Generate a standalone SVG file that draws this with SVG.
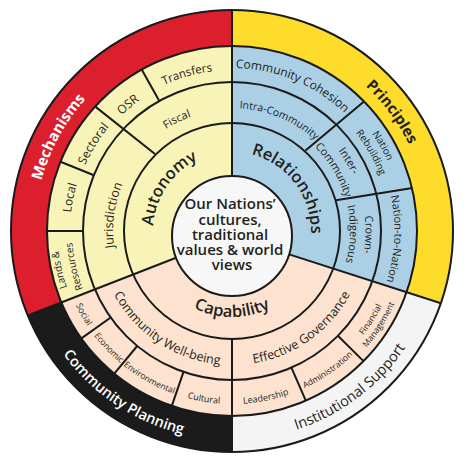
<svg xmlns="http://www.w3.org/2000/svg" width="468" height="463" viewBox="0 0 468 463">
<style>
.ln{fill:none;stroke:#1a1a1a;stroke-width:2}
.ring{stroke:#1a1a1a;stroke-width:2}
text{font-family:"Open Sans","Noto Sans","Liberation Sans",sans-serif;fill:#231f20}
.rt{font-size:15px;font-weight:700}
.rs{font-size:14.5px;font-weight:600}
.core{font-size:16.5px;font-weight:600}
.mid{font-size:12.5px}
.s12{font-size:12px}
.s11{font-size:11px}
.s10{font-size:10px}
.s9{font-size:9px}
.s85{font-size:8.5px}
.ctr{font-size:15px;font-weight:600}
.wt{fill:#ffffff}
</style>
<defs>
<path id="p-mech" d="M 48.8 303.5 A 197 197 0 0 1 192.4 38.0"/>
<path id="p-prin" d="M 243.3 34.3 A 197 197 0 0 1 423.7 276.3"/>
<path id="p-cp" d="M 24.2 253.6 A 209 209 0 0 0 290.3 431.7"/>
<path id="p-is" d="M 185.0 434.6 A 209 209 0 0 0 440.7 241.9"/>
<path id="p-transfers" d="M 116.2 119.2 A 161 161 0 0 1 270.9 74.8"/>
<path id="p-osr" d="M 94.1 149.8 A 160 160 0 0 1 178.6 80.2"/>
<path id="p-sectoral" d="M 72.3 210.8 A 161 161 0 0 1 144.8 95.7"/>
<path id="p-local" d="M 71.7 254.7 A 162 162 0 0 1 94.0 146.1"/>
<path id="p-lands" d="M 85.2 325.3 A 174.5 174.5 0 0 1 58.9 208.8"/>
<path id="p-res" d="M 97.4 317.4 A 160 160 0 0 1 73.3 210.7"/>
<path id="p-fiscal" d="M 137.2 155.0 A 121.5 121.5 0 0 1 229.2 109.5"/>
<path id="p-juris" d="M 122.1 276.5 A 119 119 0 0 1 137.6 158.6"/>
<path id="p-auto" d="M 154.5 246.1 A 79 79 0 0 1 216.9 153.5"/>
<path id="p-cc" d="M 183.0 75.5 A 163 163 0 0 1 376.6 155.7"/>
<path id="p-intra" d="M 206.4 110.7 A 123 123 0 0 1 336.3 165.8"/>
<path id="p-rel" d="M 229.2 152.0 A 79 79 0 0 1 307.1 255.4"/>
<path id="p-nation1" d="M 342.7 101.4 A 170.5 170.5 0 0 1 400.2 202.9"/>
<path id="p-rebuild" d="M 334.6 110.9 A 158 158 0 0 1 387.8 204.9"/>
<path id="p-inter" d="M 312.0 124.8 A 133 133 0 0 1 363.4 210.2"/>
<path id="p-comm" d="M 303.0 136.8 A 118 118 0 0 1 348.5 212.5"/>
<path id="p-crown" d="M 354.4 177.8 A 133.5 133.5 0 0 1 351.5 290.6"/>
<path id="p-indig" d="M 340.2 184.0 A 118 118 0 0 1 337.6 283.7"/>
<path id="p-n2n" d="M 376.5 156.7 A 162.5 162.5 0 0 1 368.6 319.0"/>
<path id="p-cap" d="M 166.1 286.3 A 86 86 0 0 0 297.9 286.3"/>
<path id="p-cwb" d="M 103.5 269.1 A 134 134 0 0 0 247.2 364.1"/>
<path id="p-eg" d="M 221.5 364.6 A 134 134 0 0 0 361.7 264.6"/>
<path id="p-social" d="M 64.4 274.0 A 173 173 0 0 0 108.4 352.0"/>
<path id="p-econ" d="M 80.0 313.6 A 173 173 0 0 0 141.6 378.5"/>
<path id="p-env" d="M 104.8 348.2 A 173 173 0 0 0 198.1 400.6"/>
<path id="p-cult" d="M 160.3 388.4 A 173 173 0 0 0 248.6 403.2"/>
<path id="p-lead" d="M 221.4 403.7 A 173 173 0 0 0 309.2 385.8"/>
<path id="p-admin" d="M 281.1 396.9 A 173 173 0 0 0 369.3 336.3"/>
<path id="p-fin" d="M 345.2 354.5 A 167.5 167.5 0 0 0 391.7 281.4"/>
<path id="p-mgmt" d="M 352.3 362.2 A 178 178 0 0 0 401.8 284.5"/>
</defs>
<rect width="468" height="463" fill="#ffffff"/>

<g id="outer-ring">
<g id="mechanisms"><path d="M 232 236 L 232 10 A 221 221 0 0 0 27.8 315.5 Z" fill="#dc1f2d"/>
<text class="rt wt"><textPath href="#p-mech" startOffset="50%" text-anchor="middle">Mechanisms</textPath></text></g>
<g id="principles"><path d="M 232 236 L 440.9 303.3 A 221 221 0 0 0 232 10 Z" fill="#fddc2c"/>
<text class="rt"><textPath href="#p-prin" startOffset="50%" text-anchor="middle">Principles</textPath></text></g>
<g id="institutional-support"><path d="M 232 236 L 232 452 A 221 221 0 0 0 440.9 303.3 Z" fill="#f4f4f4"/>
<text class="rs" style="font-weight:500"><textPath href="#p-is" startOffset="50%" text-anchor="middle">Institutional Support</textPath></text></g>
<g id="community-planning"><path d="M 232 236 L 27.8 315.5 A 221 221 0 0 0 232 452 Z" fill="#1b1b1b"/>
<text class="rs wt"><textPath href="#p-cp" startOffset="50%" text-anchor="middle">Community Planning</textPath></text></g>
</g>

<g id="fills">
<path id="autonomy-fill" d="M 232 236 L 232 46 A 185 185 0 0 0 61.4 302.5 Z" fill="#f8f4b8"/>
<path id="relationships-fill" d="M 232 236 L 406.6 292.2 A 185 185 0 0 0 232 46 Z" fill="#abd0e5"/>
<path id="capability-fill" d="M 232 236 L 61.4 302.5 A 185 185 0 0 0 406.6 292.2 Z" fill="#fce2cf"/>
</g>

<g id="connectors">
<circle class="ln" cx="232" cy="231" r="221"/>
<circle class="ln" cx="232" cy="231" r="185"/>
<circle class="ln" cx="232" cy="231" r="149"/>
<circle class="ln" cx="232" cy="231" r="108"/>
<path class="ln" d="M 232 10 V 176 M 232 339 V 452 M 289.1 254.4 L 440.9 303.3 M 176.1 257.8 L 27.8 315.5"/>
<path class="ln" d="M 141.7 69.5 L 159.3 100.9 M 95 106.4 L 155 154 M 60.5 161.7 L 93.9 175.2 M 47 231 L 83 231"/>
<path class="ln" d="M 364 101.5 L 305.5 150.5 M 412.5 188 L 336 200.3"/>
<path class="ln" d="M 81.4 338.4 L 110.7 317.5 M 114.3 373.7 L 137.2 346 M 171.8 405.9 L 183.5 371.9 M 305.8 400.7 L 291.4 367.6 M 363.5 361.1 L 337.9 335.8"/>
</g>

<g id="autonomy">
<text class="core"><textPath href="#p-auto" startOffset="50%" text-anchor="middle">Autonomy</textPath></text>
<g id="fiscal"><text class="s11"><textPath href="#p-fiscal" startOffset="50%" text-anchor="middle">Fiscal</textPath></text></g>
<g id="jurisdiction"><text class="s12" style="font-size:12.5px"><textPath href="#p-juris" startOffset="50%" text-anchor="middle">Jurisdiction</textPath></text></g>
<g id="transfers"><text class="s11" style="font-size:11.5px"><textPath href="#p-transfers" startOffset="50%" text-anchor="middle">Transfers</textPath></text></g>
<g id="osr"><text class="s12"><textPath href="#p-osr" startOffset="50%" text-anchor="middle">OSR</textPath></text></g>
<g id="sectoral"><text class="s12"><textPath href="#p-sectoral" startOffset="50%" text-anchor="middle">Sectoral</textPath></text></g>
<g id="local"><text class="s12"><textPath href="#p-local" startOffset="50%" text-anchor="middle">Local</textPath></text></g>
<g id="lands-resources"><text class="s10"><textPath href="#p-lands" startOffset="50%" text-anchor="middle">Lands &amp;</textPath></text>
<text class="s10"><textPath href="#p-res" startOffset="50%" text-anchor="middle">Resources</textPath></text></g>
</g>

<g id="relationships">
<text class="core"><textPath href="#p-rel" startOffset="50%" text-anchor="middle">Relationships</textPath></text>
<g id="community-cohesion"><text class="mid" style="font-size:12px"><textPath href="#p-cc" startOffset="50%" text-anchor="middle">Community Cohesion</textPath></text></g>
<g id="intra-community"><text class="s11" style="font-size:10.5px"><textPath href="#p-intra" startOffset="50%" text-anchor="middle">Intra-Community</textPath></text></g>
<g id="nation-rebuilding"><text class="s10"><textPath href="#p-nation1" startOffset="50%" text-anchor="middle">Nation</textPath></text>
<text class="s10"><textPath href="#p-rebuild" startOffset="50%" text-anchor="middle">Rebuilding</textPath></text></g>
<g id="inter-community"><text class="s11"><textPath href="#p-inter" startOffset="50%" text-anchor="middle">Inter-</textPath></text>
<text class="s11"><textPath href="#p-comm" startOffset="50%" text-anchor="middle">Community</textPath></text></g>
<g id="crown-indigenous"><text class="s11"><textPath href="#p-crown" startOffset="50%" text-anchor="middle">Crown-</textPath></text>
<text class="s11"><textPath href="#p-indig" startOffset="50%" text-anchor="middle">Indigenous</textPath></text></g>
<g id="nation-to-nation"><text class="s11"><textPath href="#p-n2n" startOffset="50%" text-anchor="middle">Nation-to-Nation</textPath></text></g>
</g>

<g id="capability">
<text class="core"><textPath href="#p-cap" startOffset="50%" text-anchor="middle">Capability</textPath></text>
<g id="community-well-being"><text class="mid"><textPath href="#p-cwb" startOffset="50%" text-anchor="middle">Community Well-being</textPath></text></g>
<g id="effective-governance"><text class="mid"><textPath href="#p-eg" startOffset="50%" text-anchor="middle">Effective Governance</textPath></text></g>
<g id="social"><text class="s9"><textPath href="#p-social" startOffset="50%" text-anchor="middle">Social</textPath></text></g>
<g id="economic"><text class="s85"><textPath href="#p-econ" startOffset="50%" text-anchor="middle">Economic</textPath></text></g>
<g id="environmental"><text class="s85"><textPath href="#p-env" startOffset="50%" text-anchor="middle">Environmental</textPath></text></g>
<g id="cultural"><text class="s9"><textPath href="#p-cult" startOffset="50%" text-anchor="middle">Cultural</textPath></text></g>
<g id="leadership"><text class="s9"><textPath href="#p-lead" startOffset="50%" text-anchor="middle">Leadership</textPath></text></g>
<g id="administration"><text class="s85"><textPath href="#p-admin" startOffset="50%" text-anchor="middle">Administration</textPath></text></g>
<g id="financial-management"><text class="s85"><textPath href="#p-fin" startOffset="50%" text-anchor="middle">Financial</textPath></text>
<text class="s85"><textPath href="#p-mgmt" startOffset="50%" text-anchor="middle">Management</textPath></text></g>
</g>

<g id="centre">
<circle cx="232" cy="236" r="60" fill="#f7f7f7" stroke="#1a1a1a" stroke-width="2"/>
<text class="ctr" text-anchor="middle">
<tspan x="232" y="209">Our Nations’</tspan>
<tspan x="232" y="224.5">cultures,</tspan>
<tspan x="232" y="240">traditional</tspan>
<tspan x="232" y="254.5">values &amp; world</tspan>
<tspan x="232" y="270">views</tspan>
</text>
</g>
</svg>
